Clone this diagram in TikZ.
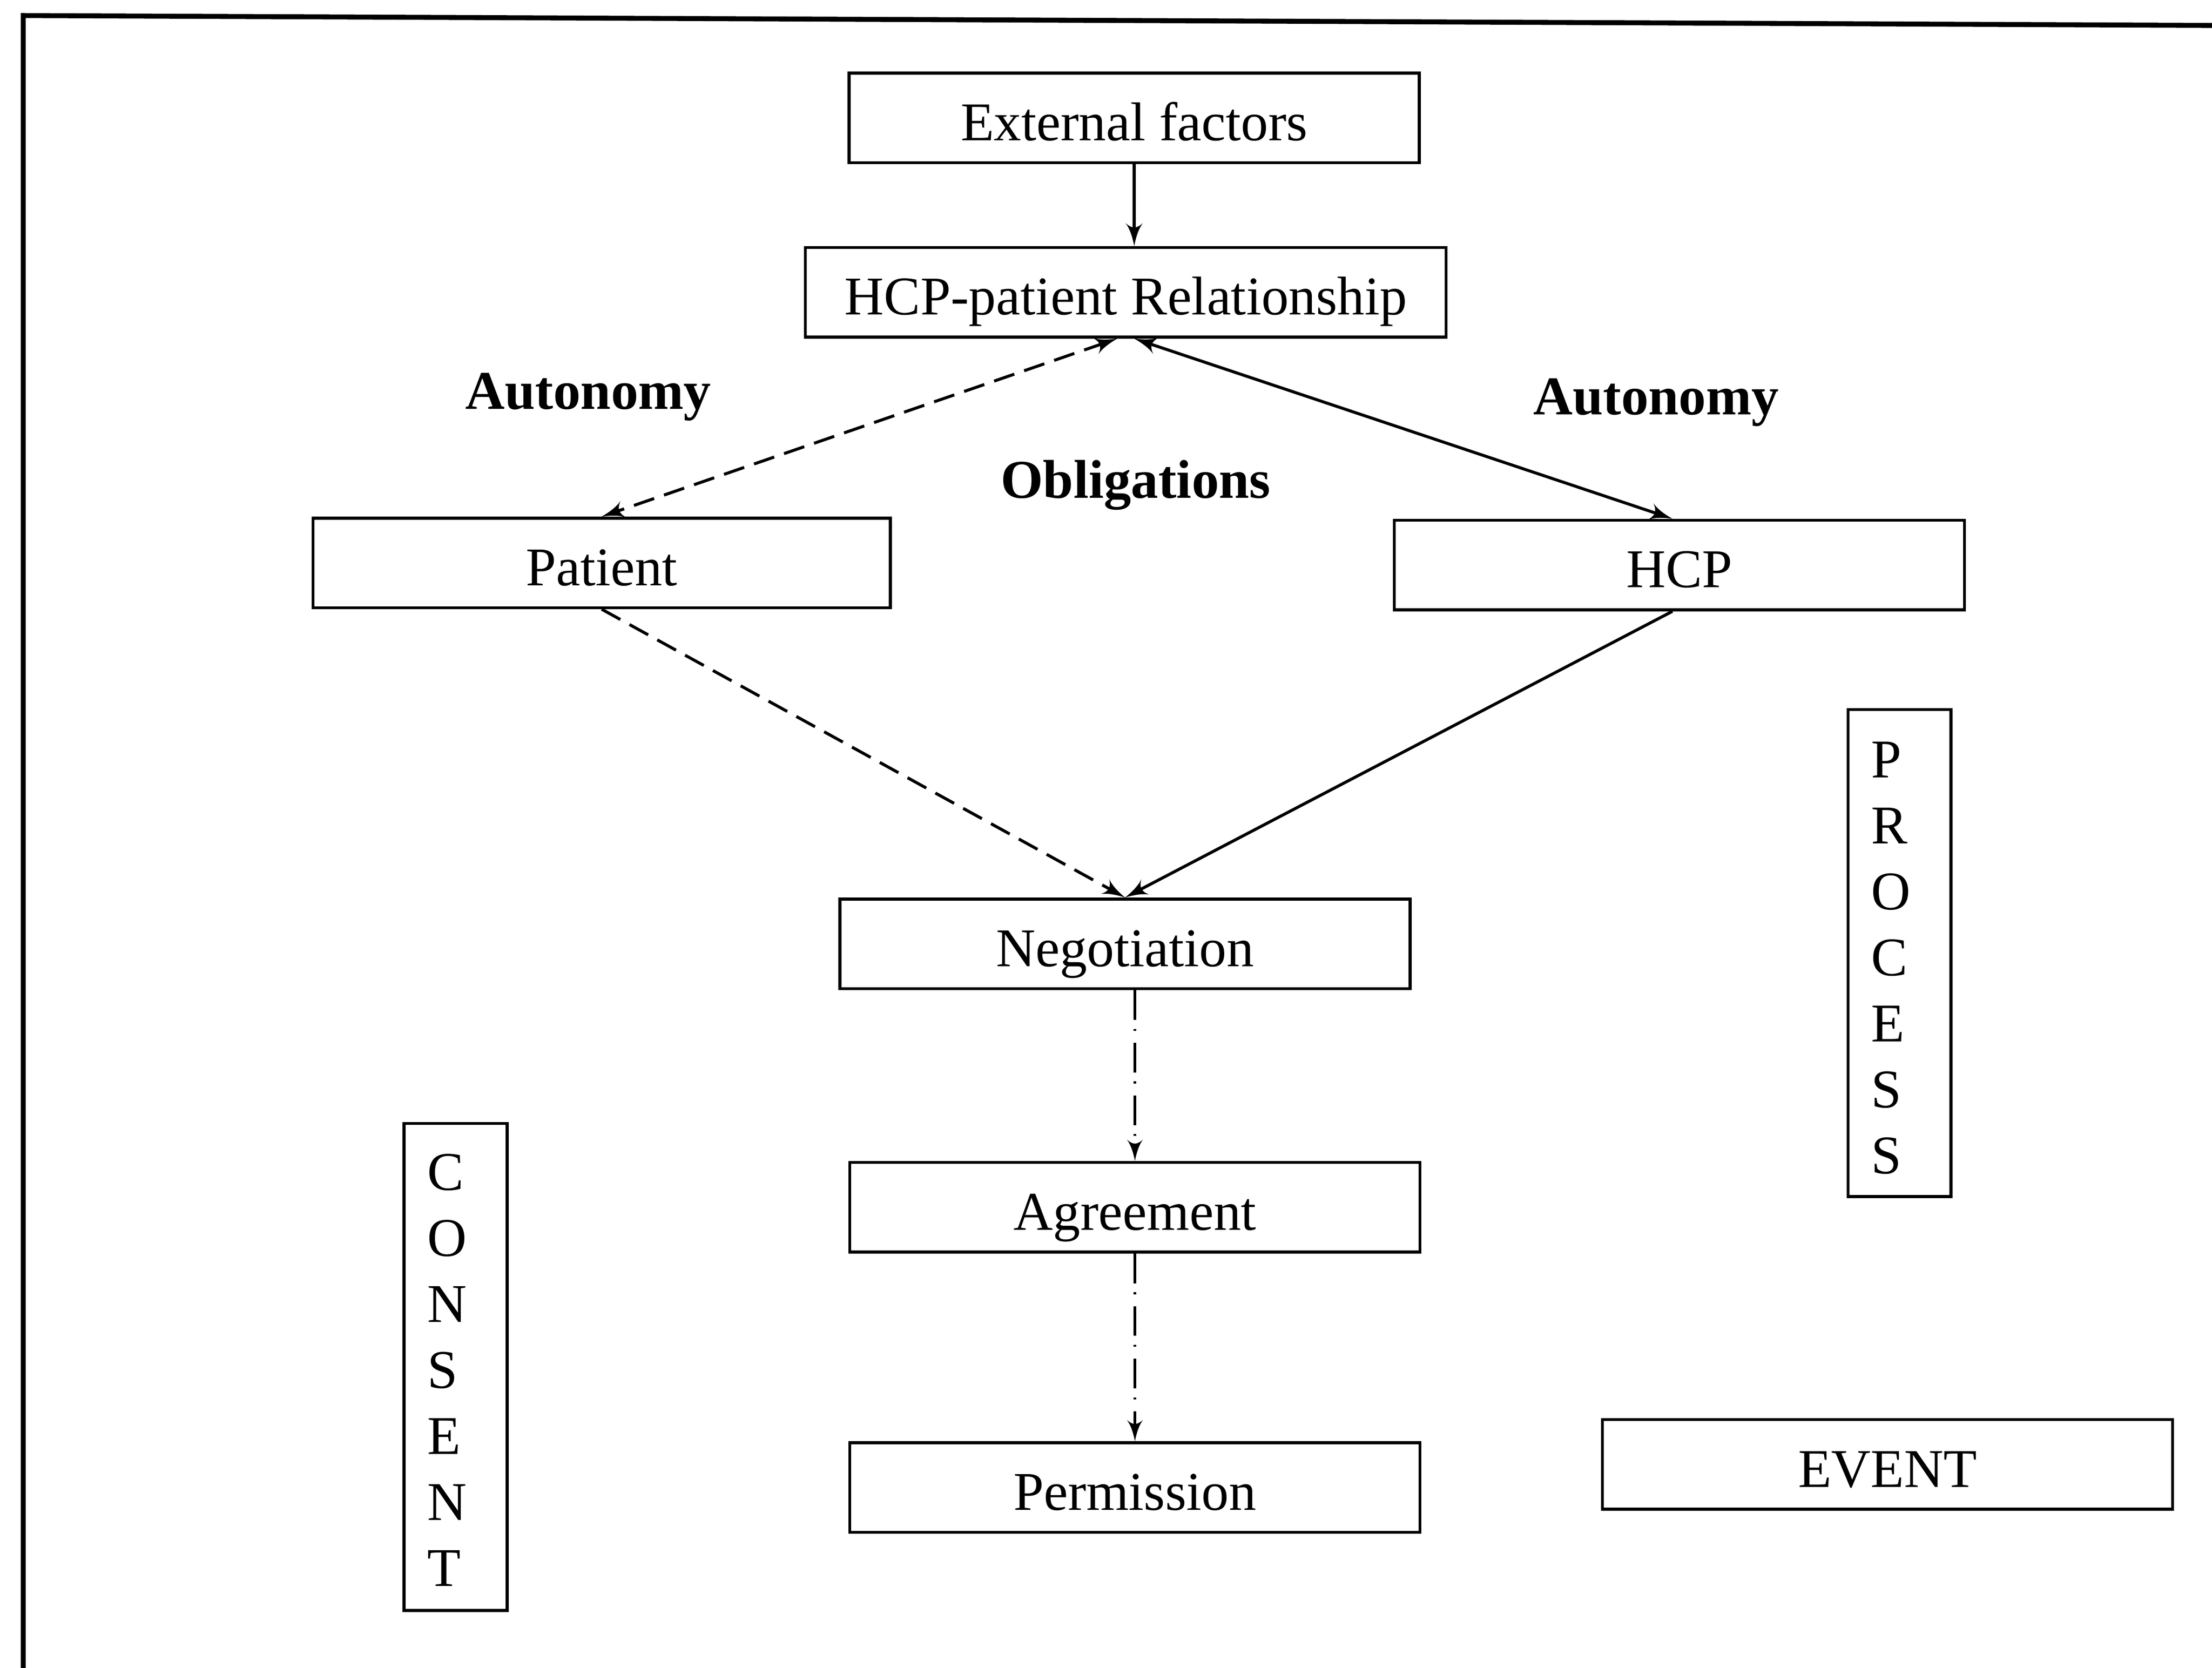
\documentclass[tikz,border=0pt]{standalone}
\usepackage{fontspec}
\setmainfont{Liberation Serif}
\usetikzlibrary{arrows,positioning}
\tikzstyle{every node}=[font=\fontsize{11}{13.3}\selectfont]
\tikzstyle{box}=[rectangle,
                 draw=black,
                 line width=.6pt,
                 minimum width=4.04cm,
                 minimum height=.635cm,
                 text height=9.1pt,
                 text depth=0pt,
                 inner sep=0pt]
\tikzstyle{column}=[rectangle,
                    draw=black,
                    line width=.6pt,
                    minimum height=3.45cm,
                    text width=.4cm,
                    inner xsep=.165cm,
                    align=left]
\tikzstyle{boldtext}=[font=\fontsize{11}{13.3}\selectfont\bfseries,
                      text height=7.3pt,
                      text depth=0pt]
\tikzstyle{link}=[line width=.6pt]
\tikzstyle{dashline}=[line width=.6pt,
                      dash pattern=on 4.3pt off 2.1pt]
\tikzstyle{dotline}=[line width=.5pt,
                     dash pattern=on 6pt off 1.8pt on .4pt off 2.4pt]

\begin{document}
\begin{tikzpicture}[x=.01cm,y=-.01cm,>=latex']
\useasboundingbox (0,0) rectangle (1568,1182.3);
% frame
\draw[line width=1pt] (16.5,1182.3) -- (16.5,11) -- (1568,18);

\node (ext)     [box] at (804,83.5) {External factors};
\node (rel)     [box,minimum width=4.54cm,below=.58cm of ext,xshift=-.06cm] {HCP-patient Relationship};
\node (patient) [box,minimum width=4.09cm] at (426.5,399) {Patient};
\node (hcp)     [box] at (1190.5,400.5) {HCP};
\node (neg)     [box] at (797.5,669) {Negotiation};
\node (agr)     [box,below=1.21cm of neg,xshift=.07cm] {Agreement};
\node (perm)    [box,below=1.33cm of agr] {Permission};
\node (event)   [box] at (1338,1038) {EVENT};
\node (process) [column] at (1346.5,675.5) {\rule{0pt}{9.3pt}P\\R\\O\\C\\E\\S\\S};
\node (consent) [column] at (323,969) {\rule{0pt}{8.5pt}C\\O\\N\\S\\E\\N\\T};

\node (aut_p) [boldtext] at (417,277) {Autonomy};
\node (aut_h) [boldtext] at (1174,281) {Autonomy};
\node (obl)   [boldtext] at (805,340) {Obligations};

\path[->] (ext.south) edge[link] (ext.south |- rel.north);
\path[<->] ([xshift=-.06cm]rel.south) edge[dashline] (patient.north);
\path[<->] ([xshift=.06cm]rel.south) edge[link] ([xshift=-.05cm]hcp.north);
\path[->] (patient.south) edge[dashline] (neg.north);
\path[->] ([xshift=-.05cm]hcp.south) edge[link] (neg.north);
\path[->] (agr.north |- neg.south) edge[dotline] (agr.north);
\path[->] (agr.south) edge[dotline] (perm.north);
\end{tikzpicture}
\end{document}
